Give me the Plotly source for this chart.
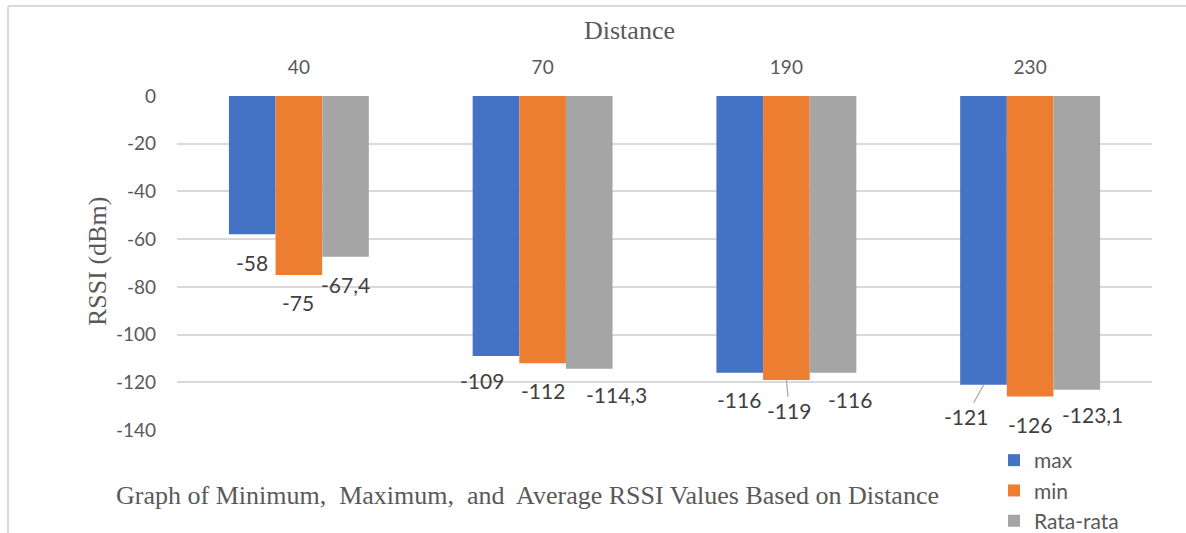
import plotly.graph_objects as go

# ---- data ----
distances = ["40", "70", "190", "230"]
rssi_max = [-58, -109, -116, -121]
rssi_min = [-75, -112, -119, -126]
rssi_avg = [-67.4, -114.3, -116, -123.1]
series_names = ["max", "min", "Rata-rata"]
y_ticks = [0, -20, -40, -60, -80, -100, -120, -140]
y_tick_labels = ["0", "-20", "-40", "-60", "-80", "-100", "-120", "-140"]

colors = ["#4472C4", "#ED7D31", "#A5A5A5"]
series = [rssi_max, rssi_min, rssi_avg]

W, H = 1186, 533
L, R, T, B = 177, 34, 96, 103
pw, ph = W - L - R, H - T - B

fig = go.Figure()
for name, vals, c in zip(series_names, series, colors):
    fig.add_trace(go.Bar(x=distances, y=vals, name=name,
                         marker=dict(color=c, line=dict(width=0))))

# label placement offsets (pixels) per series / category: (dx, dy_down)
bar_off = [-0.19, 0.0, 0.19]
label_off = [
    [(-1, 28), (-14, 24), (-1, 27), None],
    [(-1, 28), (0, 27), None, (0, 28)],
    [(0, 28), (28, 26), (17, 27), (16, 25)],
]
arrow_off = {(1, 2): (3, 31), (0, 3): (-18, 32)}

def fmt(v):
    s = f"{v:g}"
    return s.replace(".", ",")

LBL_FONT = dict(family="Lato", size=21, color="#404040")

annotations = []
for si, vals in enumerate(series):
    for ci, v in enumerate(vals):
        xpos = ci + bar_off[si]
        if (si, ci) in arrow_off:
            ax, ay = arrow_off[(si, ci)]
            annotations.append(dict(x=xpos, y=v, xref="x", yref="y", text=fmt(v),
                                    showarrow=True, arrowhead=0, arrowwidth=1.2,
                                    arrowcolor="#A6A6A6", ax=ax, ay=ay,
                                    font=LBL_FONT))
        else:
            dx, dy = label_off[si][ci]
            annotations.append(dict(x=xpos, y=v, xref="x", yref="y", text=fmt(v),
                                    showarrow=False, xshift=dx, yshift=-dy,
                                    font=LBL_FONT))

def px_x(p):
    return (p - L) / pw

def px_y(p):
    return (H - B - p) / ph

annotations.append(dict(x=px_x(629), y=px_y(30), xref="paper", yref="paper",
                        xanchor="center", yanchor="middle",
                        text="Distance", showarrow=False,
                        font=dict(family="Liberation Serif", size=26, color="#595959")))
annotations.append(dict(x=px_x(527), y=px_y(495), xref="paper", yref="paper",
                        xanchor="center", yanchor="middle",
                        text="Graph of Minimum,&nbsp; Maximum,&nbsp; and&nbsp; Average RSSI Values Based on Distance",
                        showarrow=False,
                        font=dict(family="Liberation Serif", size=26, color="#595959")))
annotations.append(dict(x=px_x(97), y=px_y(262), xref="paper", yref="paper",
                        xanchor="center", yanchor="middle",
                        text="RSSI (dBm)", showarrow=False, textangle=-90,
                        font=dict(family="Liberation Serif", size=26, color="#595959")))

shapes = [dict(type="line", xref="paper", yref="paper",
               x0=px_x(8), y0=px_y(560), x1=px_x(8), y1=px_y(6),
               line=dict(color="#D9D9D9", width=2)),
          dict(type="line", xref="paper", yref="paper",
               x0=px_x(8), y0=px_y(6), x1=px_x(1200), y1=px_y(6),
               line=dict(color="#D9D9D9", width=2))]

fig.update_layout(
    width=W, height=H,
    margin=dict(l=L, r=R, t=T, b=B, autoexpand=False),
    paper_bgcolor="white", plot_bgcolor="white",
    barmode="group", bargap=0.426, bargroupgap=0,
    annotations=annotations, shapes=shapes,
    showlegend=True,
    legend=dict(x=px_x(994), y=px_y(440), xanchor="left", yanchor="top",
                font=dict(family="Lato", size=21, color="#595959"),
                bgcolor="rgba(0,0,0,0)", tracegroupgap=0),
    xaxis=dict(type="category", side="top", showgrid=False, zeroline=False,
               showline=False, ticks="", ticklabelstandoff=17,
               tickfont=dict(family="Lato", size=19, color="#595959")),
    yaxis=dict(range=[-140, 0], tickvals=y_ticks, ticktext=y_tick_labels,
               showgrid=True, gridcolor="#D9D9D9", gridwidth=1.5,
               zeroline=False, showline=False, ticks="", ticklabelstandoff=20,
               tickfont=dict(family="Lato", size=19, color="#595959")),
)

fig.write_html("out.html", config={"displayModeBar": False},
               post_script="document.body.style.margin='0';document.body.style.overflow='hidden';")
